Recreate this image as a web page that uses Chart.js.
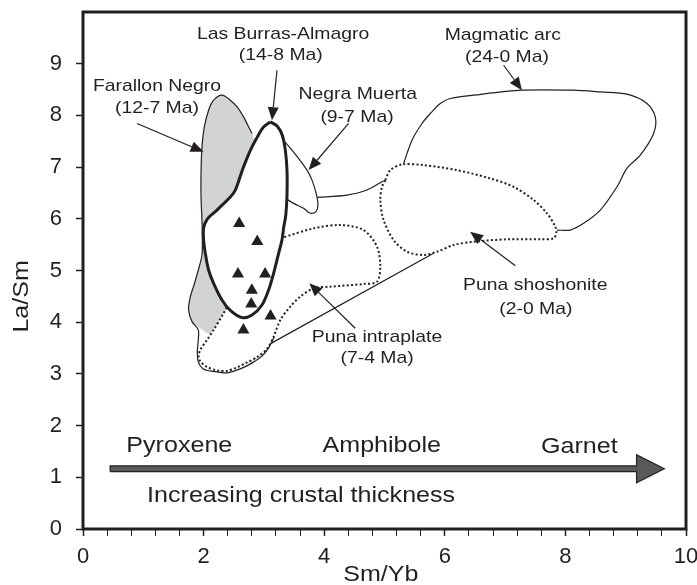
<!DOCTYPE html>
<html>
<head>
<meta charset="utf-8">
<script src="https://cdn.jsdelivr.net/npm/chart.js@4.4.1/dist/chart.umd.min.js"></script>
<style>
  html, body { margin: 0; padding: 0; background: #fff; }
  #wrap { width: 697px; height: 585px; }
</style>
</head>
<body>
<div id="wrap"><canvas id="chart"></canvas></div>
<script>
// Sm/Yb vs La/Sm fields, all outlines as [Sm/Yb, La/Sm] pairs
const xLabelValues = [0, 2, 4, 6, 8, 10];
const yLabelValues = [0, 1, 2, 3, 4, 5, 6, 7, 8, 9];

const sampleSmYb = [2.59, 2.89, 2.57, 3.02, 2.80, 2.79, 3.11, 2.66];
const sampleLaSm = [5.91, 5.56, 4.93, 4.93, 4.62, 4.35, 4.12, 3.85];

const lasBurras = [
  [3.106, 7.875], [3.222, 7.792], [3.305, 7.618], [3.355, 7.328], [3.383, 6.942],
  [3.383, 6.459], [3.363, 6.072], [3.327, 5.821], [3.300, 5.589], [3.244, 5.332],
  [3.161, 4.946], [3.078, 4.623], [2.968, 4.333], [2.803, 4.140], [2.637, 4.088],
  [2.443, 4.227], [2.305, 4.430], [2.166, 4.753], [2.083, 5.010], [2.028, 5.332],
  [2.000, 5.589], [2.000, 5.821], [2.061, 5.995], [2.222, 6.169], [2.443, 6.420],
  [2.526, 6.555], [2.609, 6.826], [2.663, 7.005], [2.741, 7.232], [2.803, 7.392],
  [2.907, 7.618], [2.990, 7.773], [3.106, 7.875]
];

const farallonGrey = [
  [2.305, 8.391], [2.443, 8.294], [2.559, 8.159], [2.663, 7.971], [2.741, 7.792],
  [2.803, 7.651], [2.973, 7.135], [3.073, 6.362], [3.023, 5.396], [2.858, 4.816],
  [2.609, 4.430], [2.415, 4.333], [2.332, 4.173], [2.166, 3.850], [2.095, 3.773],
  [1.945, 3.883], [1.808, 4.011], [1.751, 4.237], [1.779, 4.488], [1.846, 4.739],
  [1.912, 5.010], [1.973, 5.299], [1.978, 5.686], [1.973, 5.976], [1.957, 6.426],
  [1.957, 6.878], [1.973, 7.392], [2.012, 7.778], [2.083, 8.101], [2.166, 8.294],
  [2.305, 8.391]
];

const farallonSliver = [
  [3.172, 3.715], [3.089, 3.522], [2.973, 3.348], [2.808, 3.213], [2.720, 3.223],
  [2.891, 3.329], [3.051, 3.483], [3.161, 3.721], [3.172, 3.715]
];

const farallonOutline = [
  [2.803, 7.651], [2.741, 7.792], [2.663, 7.971], [2.559, 8.159], [2.443, 8.294],
  [2.305, 8.391], [2.166, 8.294], [2.083, 8.101], [2.012, 7.778], [1.973, 7.392],
  [1.957, 6.878], [1.957, 6.426], [1.973, 5.976], [1.978, 5.686], [1.973, 5.299],
  [1.912, 5.010], [1.846, 4.739], [1.779, 4.488], [1.751, 4.237], [1.808, 4.011],
  [1.912, 3.851], [1.912, 3.657], [1.896, 3.425], [1.912, 3.232], [1.995, 3.097],
  [2.161, 3.049], [2.393, 3.020], [2.609, 3.097], [2.808, 3.213], [2.973, 3.348],
  [3.089, 3.522], [3.172, 3.715]
];

const negraMuerta = [
  [3.239, 7.618], [3.322, 7.522], [3.438, 7.367], [3.575, 7.168], [3.715, 6.942],
  [3.798, 6.748], [3.861, 6.517], [3.894, 6.323], [3.886, 6.188], [3.836, 6.117],
  [3.761, 6.111], [3.658, 6.202], [3.493, 6.298], [3.383, 6.376], [3.239, 6.459],
  [3.239, 7.618]
];

const punaIntraplate = [
  [3.272, 5.622], [3.824, 5.815], [4.267, 5.879], [4.653, 5.782], [4.876, 5.460],
  [4.930, 5.073], [4.876, 4.784], [4.653, 4.739], [4.101, 4.687], [3.824, 4.656],
  [3.604, 4.494], [3.438, 4.301], [3.272, 4.044], [3.161, 3.721], [3.051, 3.483],
  [2.891, 3.329], [2.720, 3.223], [2.554, 3.126], [2.388, 3.058], [2.222, 3.068],
  [2.056, 3.136], [1.945, 3.242], [1.917, 3.338], [1.945, 3.464], [2.056, 3.657],
  [2.166, 3.850], [2.332, 4.173], [2.415, 4.333], [2.750, 4.700], [3.050, 5.250],
  [3.272, 5.622]
];

const punaShoshonite = [
  [5.013, 6.748], [5.096, 6.941], [5.290, 7.052], [5.648, 7.038], [6.202, 6.941],
  [6.755, 6.781], [7.141, 6.619], [7.473, 6.362], [7.695, 6.105], [7.833, 5.846],
  [7.849, 5.719], [7.804, 5.622], [7.584, 5.603], [7.032, 5.603], [6.478, 5.556],
  [6.146, 5.493], [5.871, 5.363], [5.648, 5.300], [5.373, 5.363], [5.151, 5.589],
  [4.985, 5.976], [4.930, 6.362], [4.959, 6.619], [5.013, 6.748]
];

// magmatic arc boundary, split where it runs along the shoshonite field
const arcLeft = [
  [3.886, 6.414], [4.378, 6.459], [4.710, 6.556], [4.985, 6.735]
];
const arcMain = [
  [5.317, 7.071], [5.456, 7.521], [5.622, 7.844], [5.760, 8.037], [5.925, 8.230],
  [6.091, 8.327], [6.478, 8.391], [7.280, 8.487], [8.136, 8.487], [8.579, 8.454],
  [9.022, 8.410], [9.353, 8.230], [9.491, 7.971], [9.463, 7.651], [9.242, 7.231],
  [9.022, 6.980], [8.856, 6.619], [8.579, 6.169], [8.302, 5.912], [8.081, 5.782],
  [7.861, 5.782]
];
const arcBase = [[3.073, 3.561], [5.814, 5.332]];

// crustal thickness arrow outline
const trendArrow = [
  [0.45, 1.11], [9.18, 1.11], [9.18, 0.895], [9.64, 1.165], [9.18, 1.435],
  [9.18, 1.22], [0.45, 1.22], [0.45, 1.11]
];

// label pointers: tail x, tail y, tip x, tip y
const pointers = [
  [0.896, 7.844, 2.00, 7.295],
  [3.217, 8.874, 3.134, 7.908],
  [4.405, 7.844, 3.741, 6.942],
  [6.975, 8.970, 7.28, 8.487],
  [7.17, 5.09, 6.42, 5.749],
  [4.515, 3.883, 3.753, 4.752]
];

const fieldLabels = [
  ['Las Burras-Almagro', 3.318, 9.563], ['(14-8 Ma)', 3.28, 9.163],
  ['Farallon Negro', 1.227, 8.565], ['(12-7 Ma)', 1.227, 8.134],
  ['Negra Muerta', 4.557, 8.404], ['(9-7 Ma)', 4.544, 7.971],
  ['Magmatic arc', 6.962, 9.55], ['(24-0 Ma)', 7.031, 9.131],
  ['Puna shoshonite', 7.50, 4.72], ['(2-0 Ma)', 7.51, 4.25],
  ['Puna intraplate', 4.876, 3.709], ['(7-4 Ma)', 4.877, 3.304]
];
const trendLabels = [
  ['Pyroxene', 1.597, 1.609], ['Amphibole', 4.955, 1.609], ['Garnet', 8.23, 1.596],
  ['Increasing crustal thickness', 3.617, 0.63]
];

const ink = '#231f20';
const fontFamily = "'Liberation Sans', Arial, sans-serif";
const dotted = [2, 2.3];

const pts = arr => arr.map(p => ({ x: p[0], y: p[1] }));

function field(data, opts) {
  return Object.assign({
    data: pts(data), showLine: true, pointRadius: 0, tension: 0.3,
    borderColor: ink, borderWidth: 1.2, backgroundColor: '#fff', fill: false
  }, opts);
}

const datasets = [
  {
    data: sampleSmYb.map((v, i) => ({ x: v, y: sampleLaSm[i] })),
    pointStyle: 'triangle', pointRadius: 7, backgroundColor: ink,
    borderColor: ink, borderWidth: 0, showLine: false, order: 0
  },
  field(trendArrow, { tension: 0, fill: 'shape', backgroundColor: '#595959', borderWidth: 1.2, order: 1 }),
  field(lasBurras, { fill: 'shape', borderWidth: 3, order: 2 }),
  field(farallonOutline, { order: 3 }),
  field(punaIntraplate, { fill: 'shape', borderWidth: 2, borderDash: dotted, order: 4 }),
  field(punaShoshonite, { fill: 'shape', borderWidth: 2, borderDash: dotted, order: 5 }),
  field(negraMuerta, { fill: 'shape', order: 6 }),
  field(farallonSliver, { fill: 'shape', backgroundColor: '#d1d3d4', borderWidth: 0, order: 7 }),
  field(farallonGrey, { fill: 'shape', backgroundColor: '#d1d3d4', borderWidth: 0, order: 8 }),
  field(arcLeft, { order: 9 }),
  field(arcMain, { order: 10 }),
  field(arcBase, { tension: 0, order: 11 })
];

function drawStretched(ctx, text, px, py, size, vertical) {
  ctx.save();
  ctx.translate(px, py);
  if (vertical) ctx.rotate(-Math.PI / 2);
  ctx.scale(1.14, 1);
  ctx.font = size + 'px ' + fontFamily;
  ctx.textAlign = 'center';
  ctx.textBaseline = 'middle';
  ctx.fillText(text, 0, 0);
  ctx.restore();
}

function drawPointer(ctx, x0, y0, x1, y1) {
  const ang = Math.atan2(y1 - y0, x1 - x0);
  const len = 13, half = 5.5;
  const bx = x1 - Math.cos(ang) * len, by = y1 - Math.sin(ang) * len;
  ctx.beginPath();
  ctx.moveTo(x0, y0);
  ctx.lineTo(bx, by);
  ctx.stroke();
  ctx.beginPath();
  ctx.moveTo(x1, y1);
  ctx.lineTo(bx - Math.sin(ang) * half, by + Math.cos(ang) * half);
  ctx.lineTo(bx + Math.sin(ang) * half, by - Math.cos(ang) * half);
  ctx.closePath();
  ctx.fill();
}

const overlay = {
  id: 'overlay',
  afterDatasetsDraw(chart) {
    const { ctx, chartArea: a, scales: { x, y } } = chart;
    ctx.save();
    ctx.strokeStyle = ink;
    ctx.fillStyle = ink;
    ctx.lineWidth = 1.2;
    pointers.forEach(p => drawPointer(ctx,
      x.getPixelForValue(p[0]), y.getPixelForValue(p[1]),
      x.getPixelForValue(p[2]), y.getPixelForValue(p[3])));

    fieldLabels.forEach(l => drawStretched(ctx, l[0], x.getPixelForValue(l[1]), y.getPixelForValue(l[2]), 17));
    trendLabels.forEach(l => drawStretched(ctx, l[0], x.getPixelForValue(l[1]), y.getPixelForValue(l[2]), 22));

    // axis titles
    drawStretched(ctx, 'Sm/Yb', x.getPixelForValue(4.94), a.bottom + 46, 22);
    drawStretched(ctx, 'La/Sm', 22, y.getPixelForValue(4.5), 22, true);

    // frame
    ctx.lineWidth = 3;
    ctx.strokeRect(a.left, a.top, a.right - a.left, a.bottom - a.top);
    ctx.restore();
  }
};

Chart.defaults.font.family = fontFamily;

new Chart(document.getElementById('chart'), {
  type: 'scatter',
  data: { datasets },
  options: {
    responsive: true,
    maintainAspectRatio: false,
    animation: false,
    layout: { padding: { top: 12, right: 11, left: 0, bottom: 0 } },
    plugins: { legend: { display: false }, tooltip: { enabled: false } },
    scales: {
      x: {
        type: 'linear', min: 0, max: 10,
        afterFit: s => { s.height = 56; s.paddingLeft = 0; s.paddingRight = 11; },
        border: { display: false },
        grid: {
          drawOnChartArea: false, tickLength: 7, tickColor: ink,
          tickWidth: c => xLabelValues.includes(Math.round(c.tick.value * 10) / 10) ? 1.5 : 1
        },
        ticks: {
          stepSize: 0.4, autoSkip: false, maxRotation: 0, padding: 8, color: ink,
          font: { size: 22 },
          callback: v => {
            const r = Math.round(v * 10) / 10;
            return xLabelValues.includes(r) ? String(r) : '';
          }
        }
      },
      y: {
        type: 'linear', min: 0, max: 10,
        afterFit: s => { s.width = 83; s.paddingTop = 0; s.paddingBottom = 0; },
        border: { display: false },
        grid: { drawOnChartArea: false, tickLength: 7, tickWidth: 1.5, tickColor: ink },
        ticks: {
          stepSize: 1, padding: 14, color: ink, font: { size: 22 },
          // the top value (10) gets no label and no tick mark
          callback: v => yLabelValues.includes(v) ? String(v) : null
        }
      }
    }
  },
  plugins: [overlay]
});
</script>
</body>
</html>
